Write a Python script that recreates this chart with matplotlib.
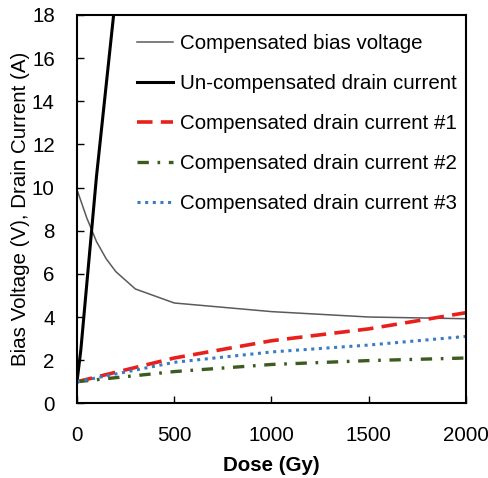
import matplotlib
matplotlib.use("Agg")
import matplotlib.pyplot as plt

plt.rcParams['font.family'] = ['Liberation Sans', 'DejaVu Sans']

# Data
bias_dose = [0, 50, 100, 150, 200, 300, 500, 1000, 1500, 2000]
bias_voltage = [9.9, 8.6, 7.5, 6.7, 6.1, 5.3, 4.65, 4.25, 4.0, 3.92]

uncomp_dose = [0, 20, 100, 200]
uncomp_current = [1.0, 2.5, 10.5, 19.0]

comp_dose = [0, 500, 1000, 1500, 2000]
comp1 = [1.0, 2.1, 2.9, 3.45, 4.2]
comp2 = [1.0, 1.47, 1.8, 1.98, 2.1]
comp3 = [1.0, 1.9, 2.38, 2.7, 3.1]

labels = ["Compensated bias voltage", "Un-compensated drain current",
          "Compensated drain current #1", "Compensated drain current #2",
          "Compensated drain current #3"]
xticks = [0, 500, 1000, 1500, 2000]
yticks = [0, 2, 4, 6, 8, 10, 12, 14, 16, 18]

FS = 14.8

fig = plt.figure(figsize=(4.89, 4.78), dpi=100)
ax = fig.add_axes([77/489, 1 - 403.3/478, (466 - 77)/489, (403.3 - 15)/478])

l1, = ax.plot(bias_dose, bias_voltage, color='#5a5a5a', lw=1.1)
l2, = ax.plot(uncomp_dose, uncomp_current, color='black', lw=2.2)
l3, = ax.plot(comp_dose, comp1, color='#e8201c', lw=2.6, dashes=(4.3, 2.3))
l4, = ax.plot(comp_dose, comp2, color='#3d5a1f', lw=2.4, dashes=(3.4, 2.6, 0.8, 2.6))
l5, = ax.plot(comp_dose, comp3, color='#3a7cc4', lw=2.2, dashes=(1.0, 1.5))

ax.set_xlim(0, 2000)
ax.set_ylim(0, 18)
ax.set_xticks(xticks)
ax.set_yticks(yticks)
ax.tick_params(direction='in', length=5, width=1, labelsize=FS, colors='black')
ax.tick_params(axis='y', pad=16)
ax.tick_params(axis='x', pad=16)
for s in ax.spines.values():
    s.set_linewidth(1.5)

ax.set_xlabel('Dose (Gy)', fontsize=FS, fontweight='bold', labelpad=8)
ax.set_ylabel('Bias Voltage (V), Drain Current (A)', fontsize=FS, labelpad=1.5)

leg = ax.legend([l1, l2, l3, l4, l5], labels, loc='upper left',
                bbox_to_anchor=(137/489, 1 - 34/478), bbox_transform=fig.transFigure,
                frameon=False, fontsize=FS, handlelength=1.75, handletextpad=0.35,
                labelspacing=1.02, borderaxespad=0, borderpad=0)

fig.savefig('out.png', dpi=100)
